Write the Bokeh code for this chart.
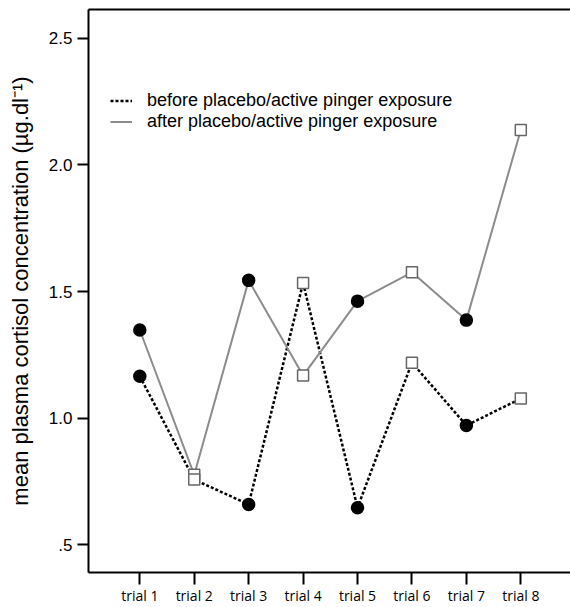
from bokeh.plotting import figure
from bokeh.models import Range1d, FixedTicker, LinearAxis, Legend, LegendItem, ColumnDataSource
from bokeh.embed import file_html
from bokeh.resources import INLINE

# ---- data ----
categories = ["trial 1", "trial 2", "trial 3", "trial 4", "trial 5", "trial 6", "trial 7", "trial 8"]
before_values = [1.165, 0.757, 0.659, 1.534, 0.646, 1.219, 0.971, 1.077]
after_values = [1.348, 0.776, 1.544, 1.168, 1.462, 1.576, 1.387, 2.138]
marker_types = ["circle", "square", "circle", "square", "circle", "square", "circle", "square"]
y_ticks = [0.5, 1.0, 1.5, 2.0, 2.5]
y_tick_labels = [".5", "1.0", "1.5", "2.0", "2.5"]
series_labels = ["before placebo/active pinger exposure", "after placebo/active pinger exposure"]
y_title = "mean plasma cortisol concentration (\u00b5g.dl\u207b\u00b9)"

x_pos = list(range(1, len(categories) + 1))

p = figure(width=570, height=607, output_backend="svg", toolbar_location=None,
           x_range=Range1d(0.0575, 8.913), y_range=Range1d(0.39, 2.614),
           min_border_left=88, min_border_right=0, min_border_top=9, min_border_bottom=33,
           background_fill_color="white", border_fill_color="white")
p.outline_line_color = None
p.grid.visible = False

# x axis
xa = p.xaxis[0]
xa.ticker = FixedTicker(ticks=x_pos)
xa.major_label_overrides = {x: c for x, c in zip(x_pos, categories)}
xa.axis_line_width = 2
xa.major_tick_line_width = 2
xa.major_tick_out = 12
xa.major_tick_in = 0
xa.minor_tick_out = 0
xa.minor_tick_in = 0
xa.major_label_text_font = "Open Sans"
xa.major_label_text_font_size = "14px"
xa.major_label_text_font_style = "normal"
xa.major_label_text_color = "black"
xa.major_label_standoff = 1

# y axis
ya = p.yaxis[0]
ya.ticker = FixedTicker(ticks=y_ticks)
ya.major_label_overrides = {t: l for t, l in zip(y_ticks, y_tick_labels)}
ya.axis_line_width = 2
ya.major_tick_line_width = 2
ya.major_tick_out = 11
ya.major_tick_in = 0
ya.minor_tick_out = 0
ya.minor_tick_in = 0
ya.major_label_text_font = "Liberation Sans"
ya.major_label_text_font_size = "17px"
ya.major_label_text_color = "black"
ya.major_label_standoff = 5
ya.axis_label = y_title
ya.axis_label_text_font = "Liberation Sans"
ya.axis_label_text_font_size = "22px"
ya.axis_label_text_font_style = "normal"
ya.axis_label_text_color = "black"
ya.axis_label_standoff = 13

# top frame line
top = LinearAxis(ticker=FixedTicker(ticks=[]), axis_line_width=2,
                 major_tick_out=0, major_tick_in=0, minor_tick_out=0, minor_tick_in=0,
                 major_label_text_font_size="0px")
p.add_layout(top, "above")

# lines
l_before = p.line(x_pos, before_values, line_color="black", line_width=2.5, line_dash="3 2")
l_after = p.line(x_pos, after_values, line_color="#8c8c8c", line_width=2)

# markers
def marker_source(vals):
    return ColumnDataSource(dict(
        x=x_pos, y=vals, marker=marker_types,
        fill=["black" if m == "circle" else "white" for m in marker_types],
        line=["black" if m == "circle" else "#666666" for m in marker_types],
        size=[12 if m == "circle" else 11 for m in marker_types],
    ))

for vals in (after_values, before_values):
    p.scatter("x", "y", marker="marker", size="size", fill_color="fill",
              line_color="line", line_width=1.5, source=marker_source(vals))

legend = Legend(items=[LegendItem(label=series_labels[0], renderers=[l_before]),
                       LegendItem(label=series_labels[1], renderers=[l_after])],
                location=(22, 440), orientation="vertical",
                label_text_font="Liberation Sans", label_text_font_size="18px",
                label_text_color="black",
                glyph_width=22, glyph_height=21, label_height=21, label_standoff=15,
                spacing=0, padding=0, margin=0,
                border_line_color=None, background_fill_alpha=0)
p.add_layout(legend)

open("out.html", "w").write(file_html(p, INLINE))
